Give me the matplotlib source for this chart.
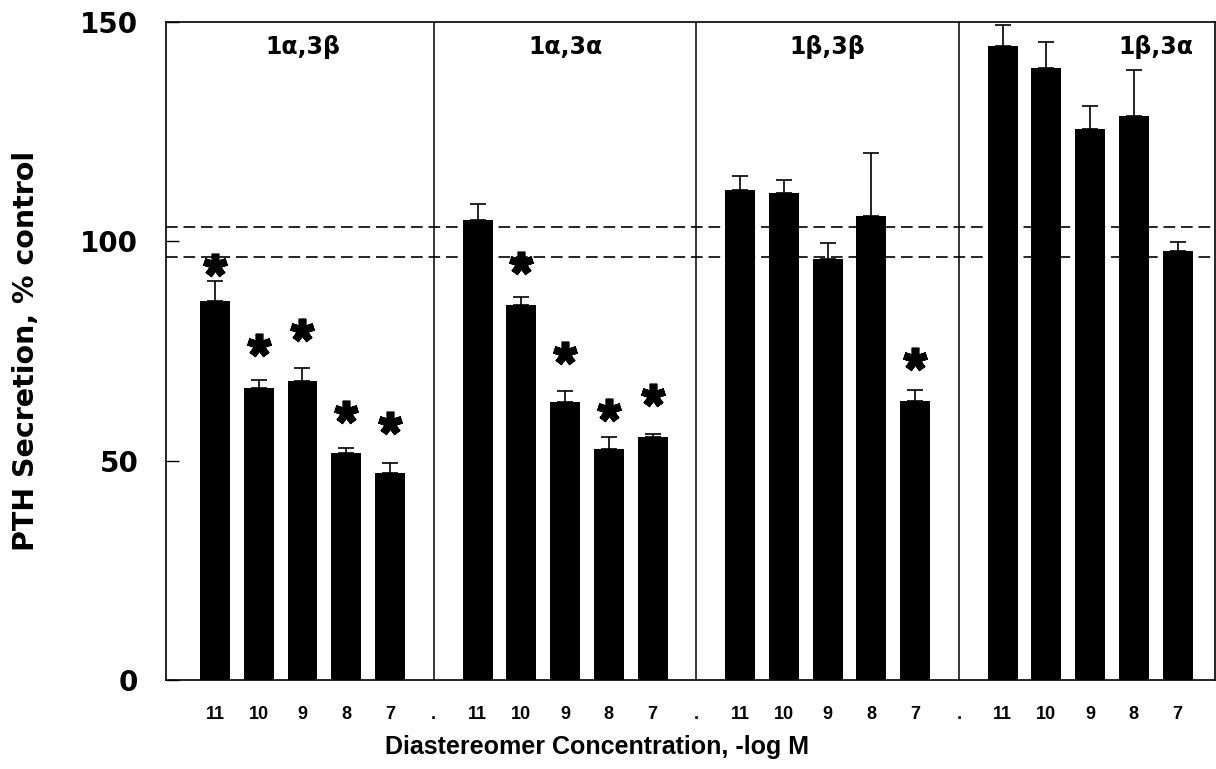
import matplotlib
matplotlib.use("Agg")
import matplotlib.pyplot as plt
import numpy as np

plt.rcParams["font.family"] = ["Liberation Sans", "DejaVu Sans"]
plt.rcParams["font.weight"] = "bold"
WIDE = ["DejaVu Sans"]   # the wider bold face used for big labels

# ── data ────────────────────────────────────────────────────────────────────
groups = ["1α,3β", "1α,3α", "1β,3β", "1β,3α"]
conc = ["11", "10", "9", "8", "7"]

means = [
    [86.3, 66.6, 68.1, 51.7, 47.3],      # 1a,3b
    [104.9, 85.4, 63.4, 52.6, 55.4],     # 1a,3a
    [111.8, 111.0, 95.9, 105.8, 63.7],   # 1b,3b
    [144.5, 139.5, 125.6, 128.5, 97.9],  # 1b,3a
]
err_top = [
    [90.9, 68.3, 71.2, 52.9, 49.5],
    [108.4, 87.2, 65.9, 55.4, 56.1],
    [115.0, 114.0, 99.6, 120.2, 66.2],
    [149.3, 145.5, 130.9, 139.0, 99.8],
]
# star (significance) heights, None = no star
star_y = [
    [94.5, 76.3, 79.9, 61.1, 58.6],
    [None, 95.0, 74.5, 61.5, 64.9],
    [None, None, None, None, 73.2],
    [None, None, None, None, None],
]
control_band = [96.4, 103.2]   # control mean +/- SE (dashed lines)

# ── layout: 5 bars per group, one "." slot between groups ──────────────────
xpos = [np.arange(5) + 6 * g for g in range(4)]
sep = [5, 11, 17]
title_x = [2, 8, 14, 21.5]

fig = plt.figure(figsize=(12.16, 7.69), dpi=100)
ax = fig.add_axes([0.1365, 0.1157, 0.8625, 0.8557])

for g in range(4):
    m = np.array(means[g])
    up = np.array(err_top[g]) - m
    ax.bar(xpos[g], m, width=0.685, color="black", zorder=3)
    ax.errorbar(xpos[g], m, yerr=[np.zeros_like(up), up], fmt="none",
                ecolor="black", elinewidth=1.2, capsize=6, capthick=1.2, zorder=2)
    for x, s in zip(xpos[g], star_y[g]):
        if s is not None:
            ax.plot(x, s, marker=(5, 2, 0), ms=17, mew=5.5, color="black",
                    zorder=4)
    ax.text(title_x[g], 144.3, groups[g], ha="center", va="center",
            fontsize=17, fontweight="bold", family=WIDE)

for y in control_band:
    ax.axhline(y, color="black", lw=1.2, ls=(0, (7, 3.5)), zorder=1)
for x in sep:
    ax.axvline(x, color="black", lw=1.1, zorder=1)

ax.set_xlim(-1.12, 22.85)
ax.set_ylim(0, 150)

ticks = [x for g in range(4) for x in xpos[g]] + sep
labels = conc * 4 + ["."] * 3
ax.set_xticks(ticks)
ax.set_xticklabels(labels, fontsize=13, fontweight="bold")
ax.tick_params(axis="x", length=0, pad=19)
ax.set_yticks([0, 50, 100, 150])
ax.set_yticklabels(["0", "50", "100", "150"], fontsize=20, fontweight="bold",
                   family=WIDE)
ax.tick_params(axis="y", direction="in", length=9, width=1, pad=20)

for sp in ax.spines.values():
    sp.set_linewidth(1.2)

ax.set_ylabel("PTH Secretion, % control", fontsize=20.5, fontweight="bold",
              family=WIDE)
ax.yaxis.set_label_coords(-0.12, 0.5)
fig.text(597 / 1216, 1 - 747 / 769, "Diastereomer Concentration, -log M",
         ha="center", va="center", fontsize=18, fontweight="bold")

fig.savefig("out.png", dpi=100)
